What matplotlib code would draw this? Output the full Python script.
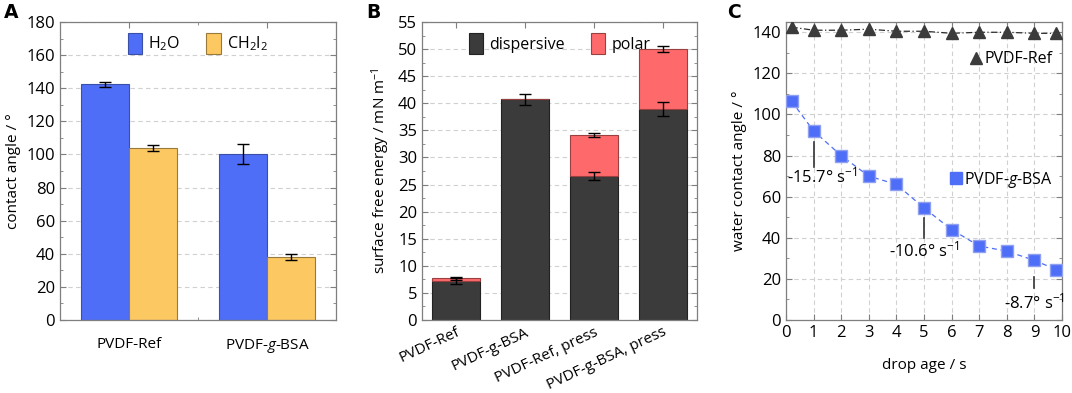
import numpy as np
import matplotlib.pyplot as plt
from matplotlib.lines import Line2D

plt.rcParams['font.family'] = ['Open Sans', 'DejaVu Sans']
plt.rcParams['font.size'] = 10.5
plt.rcParams['mathtext.fontset'] = 'custom'
plt.rcParams['mathtext.rm'] = 'Open Sans'
plt.rcParams['mathtext.it'] = 'Open Sans:italic'

# Panel A: contact angles
samples_a = ['PVDF-Ref', 'PVDF-$\\it{g}$-BSA']
h2o = [142.5, 100.5]
h2o_err = [1.5, 6.0]
ch2i2 = [104.0, 38.0]
ch2i2_err = [2.0, 2.0]

# Panel B: surface free energy
samples_b = ['PVDF-Ref', 'PVDF-g-BSA', 'PVDF-Ref, press', 'PVDF-g-BSA, press']
dispersive = [7.2, 40.7, 26.6, 38.9]
dispersive_err = [0.5, 1.0, 0.8, 1.3]
polar = [0.5, 0.0, 7.5, 11.1]
total_err = [0.3, 0.0, 0.4, 0.6]

# Panel C: water contact angle vs drop age
drop_age = [0.2, 1, 2, 3, 4, 5, 6, 7, 8, 9, 9.8]
wca_ref = [142.5, 141, 141, 141.5, 140.5, 140.5, 139.5, 140, 140, 139.5, 139.5]
wca_bsa = [106.5, 92, 80, 70, 66, 54.5, 44, 36, 33.5, 29, 24.5]
rates = ['-15.7', '-10.6', '-8.7']
rate_x = [1, 5, 9]

BLUE = '#4f6ef7'
YELLOW = '#fcc862'
DARK = '#3b3b3b'
RED = '#fe6a6c'
SPINE = '#7f7f7f'


def style_axes(ax):
    for s in ax.spines.values():
        s.set_color(SPINE)
        s.set_linewidth(0.9)
    ax.tick_params(direction='in', which='both', top=True, right=True, color=SPINE)
    ax.tick_params(which='major', length=4)
    ax.tick_params(which='minor', length=2.5)
    ax.grid(axis='y', linestyle=(0, (4, 3)), color='#d0d0d0', lw=0.8)
    ax.set_axisbelow(True)


fig = plt.figure(figsize=(10.72, 3.93), dpi=100)
axA = fig.add_axes([60 / 1072, 73 / 393, 276 / 1072, 298 / 393])
axB = fig.add_axes([422 / 1072, 73 / 393, 275 / 1072, 298 / 393])
axC = fig.add_axes([786 / 1072, 73 / 393, 276 / 1072, 298 / 393])

# ---- A
x = np.arange(len(samples_a))
w = 0.35
ekw = dict(ecolor='black', elinewidth=1, capsize=4, capthick=1)
axA.bar(x - w / 2, h2o, w, yerr=h2o_err, color=BLUE, edgecolor='#3a4fa8', lw=0.8,
        label='H$_2$O', error_kw=ekw)
axA.bar(x + w / 2, ch2i2, w, yerr=ch2i2_err, color=YELLOW, edgecolor='#9a7a3a', lw=0.8,
        label='CH$_2$I$_2$', error_kw=ekw)
style_axes(axA)
axA.set_xlim(-0.5, 1.5)
axA.set_ylim(0, 180)
axA.set_yticks(np.arange(0, 181, 20))
axA.set_yticks(np.arange(0, 181, 10), minor=True)
axA.set_xticks(x)
axA.set_xticks([0.5], minor=True)
axA.set_xticklabels(samples_a, fontsize=11)
axA.tick_params(axis='x', which='major', pad=12)
axA.tick_params(axis='y', labelsize=12)
axA.set_ylabel('contact angle / °', fontsize=11)
axA.legend(loc='upper center', ncol=2, frameon=False, fontsize=11.5,
           handlelength=0.9, handleheight=1.6, handletextpad=0.4, columnspacing=1.6,
           borderaxespad=0.3)

# ---- B
xb = np.arange(len(samples_b))
wb = 0.7
axB.bar(xb, dispersive, wb, color=DARK, edgecolor='#222222', lw=0.8, label='dispersive')
axB.bar(xb, polar, wb, bottom=dispersive, color=RED, edgecolor='#9a4040', lw=0.8, label='polar')
axB.errorbar(xb, dispersive, yerr=dispersive_err, fmt='none', **ekw)
tot = np.array(dispersive) + np.array(polar)
mask = np.array(polar) > 0
axB.errorbar(xb[mask], tot[mask], yerr=np.array(total_err)[mask], fmt='none', **ekw)
style_axes(axB)
axB.set_xlim(-0.5, 3.5)
axB.set_ylim(0, 55)
axB.set_yticks(np.arange(0, 56, 5))
axB.set_yticks(np.arange(0, 56, 2.5), minor=True)
axB.set_xticks(xb)
axB.set_xticklabels(samples_b, rotation=25, ha='right', rotation_mode='anchor', fontsize=11)
axB.tick_params(axis='y', labelsize=12)
axB.set_ylabel('surface free energy / mN m$^{-1}$', fontsize=11)
axB.legend(loc='upper center', ncol=2, frameon=False, fontsize=11.5,
           handlelength=0.9, handleheight=1.6, handletextpad=0.4, columnspacing=1.6,
           borderaxespad=0.3)

# ---- C
axC.plot(drop_age, wca_ref, color='#2b2b2b', lw=0.9, ls=(0, (5, 2, 1, 2)),
         marker='^', ms=8, mfc=DARK, mec=DARK, zorder=3)
axC.plot(drop_age, wca_bsa, color=BLUE, lw=0.9, ls=(0, (4, 3)),
         marker='s', ms=8, mfc=BLUE, mec='#8fa0f0', zorder=3)
style_axes(axC)
axC.grid(axis='x', linestyle=(0, (4, 3)), color='#d0d0d0', lw=0.8)
axC.set_xlim(0, 10)
axC.set_ylim(0, 145)
axC.set_xticks(np.arange(0, 11, 1))
axC.set_yticks(np.arange(0, 141, 20))
axC.set_yticks(np.arange(0, 141, 10), minor=True)
axC.tick_params(labelsize=12)
axC.set_xlabel('drop age / s', fontsize=11, labelpad=12)
axC.set_ylabel('water contact angle / °', fontsize=11)

line_spans = [(74.5, 86.5), (39.8, 49.5), (15.8, 21.0)]
text_pos = [(1.3, 70), (5.0, 34), (9.0, 8.5)]
for r, xr, (y0, y1), (tx, ty) in zip(rates, rate_x, line_spans, text_pos):
    axC.plot([xr, xr], [y0, y1], color='#333333', lw=1.2)
    axC.text(tx, ty, r + '° s$^{-1}$', ha='center', va='center', fontsize=12)

h_ref = Line2D([], [], ls='none', marker='^', ms=8, color=DARK)
h_bsa = Line2D([], [], ls='none', marker='s', ms=8, color=BLUE)
leg1 = axC.legend([h_ref], ['PVDF-Ref'], loc='center right', bbox_to_anchor=(1.0, 0.875),
                  frameon=False, fontsize=11.5, handlelength=0.8, handletextpad=0.1,
                  borderaxespad=0.2)
axC.add_artist(leg1)
axC.legend([h_bsa], ['PVDF-$\\it{g}$-BSA'], loc='center right', bbox_to_anchor=(1.0, 0.47),
           frameon=False, fontsize=11.5, handlelength=0.8, handletextpad=0.1,
           borderaxespad=0.2)

for ax, lab, xp in [(axA, 'A', 4), (axB, 'B', 366), (axC, 'C', 727)]:
    fig.text(xp / 1072, 1 - 13 / 393, lab, fontsize=13.5, fontweight='bold',
             va='center', ha='left', family='DejaVu Sans')

fig.savefig('out.png', dpi=100)
